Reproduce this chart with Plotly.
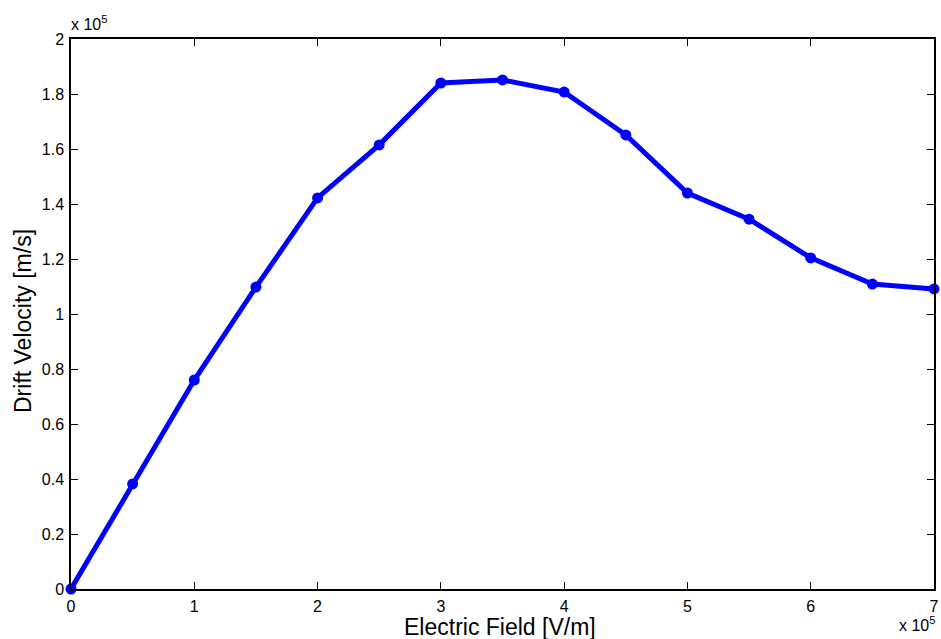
import plotly.graph_objects as go

field = [0, 0.5, 1, 1.5, 2, 2.5, 3, 3.5, 4, 4.5, 5, 5.5, 6, 6.5, 7]
velocity = [0, 0.382, 0.76, 1.098, 1.422, 1.615, 1.84, 1.851, 1.807, 1.651, 1.44, 1.345, 1.204, 1.109, 1.091]
x_ticks = [0, 1, 2, 3, 4, 5, 6, 7]
y_ticks = [0, 0.2, 0.4, 0.6, 0.8, 1, 1.2, 1.4, 1.6, 1.8, 2]
y_tick_labels = ["0", "0.2", "0.4", "0.6", "0.8", "1", "1.2", "1.4", "1.6", "1.8", "2"]

fig = go.Figure()
fig.add_trace(go.Scatter(
    x=field, y=velocity, mode="lines+markers",
    line=dict(color="#0000ff", width=5),
    marker=dict(color="#0000ff", size=11),
    cliponaxis=False,
))

font = dict(family="Liberation Sans, Arial, sans-serif", color="#000000")
axis_common = dict(
    showgrid=False, zeroline=False, showline=True, linecolor="#000000", linewidth=1.5,
    mirror="allticks", ticks="inside", ticklen=7, tickwidth=1, tickcolor="#000000",
    tickfont=dict(size=16, **font), ticklabeloverflow="allow",
)
fig.update_xaxes(range=[0, 7], tickvals=x_ticks, ticktext=[str(v) for v in x_ticks],
                 ticklabelstandoff=2, **axis_common)
fig.update_yaxes(range=[0, 2], tickvals=y_ticks, ticktext=y_tick_labels,
                 ticklabelstandoff=2, **axis_common)

# axis titles
fig.add_annotation(xref="paper", yref="paper", x=0.5, y=0, xanchor="center", yanchor="middle",
                   yshift=-38, xshift=-3, text="Electric Field [V/m]", showarrow=False,
                   font=dict(size=23, **font))
fig.add_annotation(xref="paper", yref="paper", x=0, y=0.5, xanchor="center", yanchor="middle",
                   xshift=-48, yshift=-7, textangle=-90, text="Drift Velocity [m/s]", showarrow=False,
                   font=dict(size=23, **font))

# exponent labels
fig.add_annotation(xref="paper", yref="paper", x=0, y=1, xanchor="left", yanchor="bottom",
                   yshift=4, xshift=-2, text="x 10<sup>5</sup>", showarrow=False, font=dict(size=16, **font))
fig.add_annotation(xref="paper", yref="paper", x=1, y=0, xanchor="right", yanchor="top",
                   yshift=-23, xshift=3, text="x 10<sup>5</sup>", showarrow=False, font=dict(size=16, **font))

fig.update_layout(
    width=941, height=639, showlegend=False,
    margin=dict(l=71, r=2, t=39, b=50),
    paper_bgcolor="#ffffff", plot_bgcolor="#ffffff",
    font=font,
)
fig.write_html("out.html", config={"displayModeBar": False},
               post_script="document.body.style.margin='0px';")
